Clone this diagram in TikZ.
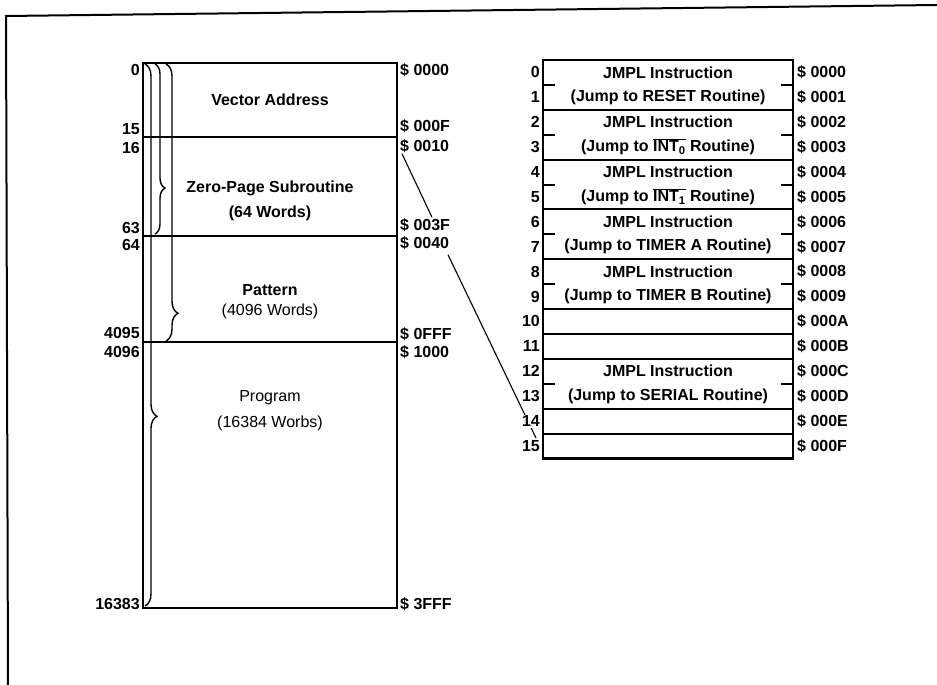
\documentclass[tikz,border=0pt]{standalone}
\usepackage{fontspec}
\setmainfont{Liberation Sans}
\usetikzlibrary{decorations.pathreplacing,calc}

\tikzset{
  lbl/.style={font=\bfseries\fontsize{16}{18}\selectfont, inner sep=0pt},
  txt/.style={font=\fontsize{16}{18}\selectfont, inner sep=0pt},
  heavy/.style={line width=2.4pt},
  rule/.style={line width=2pt},
  lead/.style={line width=1.1pt},
  curly/.style={line width=1.4pt, decorate},
}

\begin{document}
\begin{tikzpicture}[x=1pt, y=-1pt]
  \useasboundingbox (0,0) rectangle (937,685);
  % frame
  \draw[rule] (937,5) -- (6,16) -- (8,685);

  % memory map
  \draw[heavy] (143,63) rectangle (397,608);
  \foreach \y in {137,236,342}
    \draw[rule] (143,\y) -- (397,\y);
  \draw[curly, decoration={brace, amplitude=12pt, aspect=0.65}] (145,64) -- (145,606);
  \draw[curly, decoration={brace, amplitude=10pt, aspect=0.73}] (155,64) -- (155,234);
  \draw[curly, decoration={brace, amplitude=12pt, aspect=0.9}] (166,64) -- (166,341);

  \node[lbl] (vec) at (270,100) {Vector Address};
  \node[lbl] (zp) at (270,188) {Zero-Page Subroutine};
  \node[lbl] (zpw) at (270,213) {(64 Words)};
  \node[lbl] (pat) at (270,290) {Pattern};
  \node[txt] (patw) at (270,311) {(4096 Words)};
  \node[txt] (prg) at (270,398) {Program};
  \node[txt] (prgw) at (270,423) {(16384 Worbs)};

  \foreach \n/\y in {0/70,15/129,16/148,63/228,64/245,4095/333,4096/352,16383/604}
    \node[lbl, anchor=east] (n\n) at (140,\y) {\n};
  \foreach \a/\y in {0000/70,000F/126,0010/146,003F/225,0040/243,0FFF/334,1000/352,3FFF/604}
    \node[lbl, anchor=west] (a\a) at (400,\y) {\$ \a};

  % vector table
  \draw[heavy] (543,60) rectangle (793,458.4);
  \foreach \k in {2,4,6,8,10,11,12,14,15}
    \draw[rule] (543,{60+\k*24.9}) -- (793,{60+\k*24.9});
  \foreach \k in {1,3,5,7,9,13} {
    \draw[rule] (543,{60+\k*24.9}) -- +(12,0);
    \draw[rule] (793,{60+\k*24.9}) -- +(-12,0);
  }
  \foreach \i/\h in {0/0,1/1,2/2,3/3,4/4,5/5,6/6,7/7,8/8,9/9,10/A,11/B,12/C,13/D,14/E,15/F}
    \node[lbl, anchor=west] (h\i) at (797,{72.45+\i*24.9}) {\$ 000\h};
  \foreach \i/\r in {0/{RESET},2/{$\overline{\hbox{INT\textsubscript{0}}}$},
                     4/{$\overline{\hbox{INT\textsubscript{1}}}$},6/{TIMER A},
                     8/{TIMER B},12/{SERIAL}} {
    \node[lbl] (j\i) at (668,{72.45+\i*24.9}) {JMPL Instruction};
    \node[lbl] (t\i) at (668,{97.35+\i*24.9}) {(Jump to \r\ Routine)};
  }

  % leaders
  \coordinate (tail) at (536,438);
  \draw[lead] ($(a0010.south west)+(2,1)$) -- ($(a003F.north west)+(32,-1)$);
  \draw[lead] ($(a0040.south west)+(48,5)$) -- (tail);
  \foreach \i in {0,...,15}
    \node[lbl, anchor=east, fill=white, inner sep=1pt] (r\i) at (541,{72.45+\i*24.9}) {\i};
\end{tikzpicture}
\end{document}
